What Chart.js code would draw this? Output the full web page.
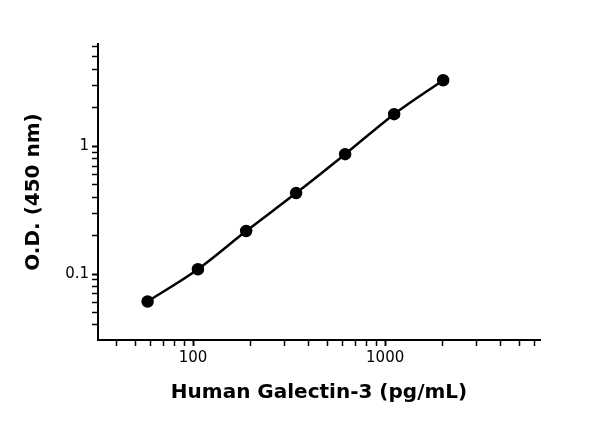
<!DOCTYPE html>
<html>
<head>
<script src="https://cdn.jsdelivr.net/npm/chart.js@4/dist/chart.umd.min.js"></script>
<style>body{margin:0;background:#fff}#wrap{width:600px;height:427px}</style>
</head>
<body>
<div id="wrap"><canvas id="chart"></canvas></div>
<script>
// Standard curve data
const concentrations = [58, 106, 189, 344, 619, 1114, 2005];
const odValues = [0.061, 0.109, 0.217, 0.43, 0.866, 1.78, 3.28];
const xLabels = [100, 1000];
const yLabels = [0.1, 1];

const FONT = '"DejaVu Sans", Lato, sans-serif';

// keep only 1..9 x 10^n ticks inside the range
const logTicks = (scale) => {
  const ticks = [];
  for (let e = -3; e <= 5; e++) {
    for (let m = 1; m <= 9; m++) {
      const v = m * Math.pow(10, e);
      if (v >= scale.min && v <= scale.max) ticks.push({ value: v, major: m === 1 });
    }
  }
  scale.ticks = ticks;
};

const axisStyle = (labels) => ({
  type: 'logarithmic',
  afterBuildTicks: logTicks,
  border: { color: '#000', width: 2 },
  grid: {
    drawOnChartArea: false,
    drawTicks: true,
    tickLength: 6,
    tickWidth: (ctx) => (ctx.tick && labels.includes(ctx.tick.value) ? 2 : 1.5),
    tickColor: '#000',
  },
  ticks: {
    color: '#000',
    autoSkip: false,
    maxRotation: 0,
    font: { family: FONT, size: 15 },
    callback: (v) => (labels.includes(v) ? String(v) : ''),
  },
});

const xAxis = axisStyle(xLabels);
xAxis.min = 32;
xAxis.max = 6400;
xAxis.title = { display: true, text: 'Human Galectin-3 (pg/mL)', color: '#000', font: { family: FONT, size: 20, weight: 'bold' }, padding: { top: 0, bottom: 22 } };
xAxis.afterFit = (s) => { s.height = 87; };

const yAxis = axisStyle(yLabels);
yAxis.min = 0.0305;
yAxis.max = 6.3;
yAxis.title = { display: true, text: 'O.D. (450 nm)', color: '#000', font: { family: FONT, size: 20, weight: 'bold' }, padding: { top: 22, bottom: 0 } };
yAxis.afterFit = (s) => { s.width = 98; };

new Chart(document.querySelector('#chart'), {
  type: 'line',
  data: {
    datasets: [{
      data: concentrations.map((c, i) => ({ x: c, y: odValues[i] })),
      borderColor: '#000',
      backgroundColor: '#000',
      borderWidth: 2.5,
      pointRadius: 5,
      pointHoverRadius: 5,
      cubicInterpolationMode: 'monotone',
    }],
  },
  options: {
    responsive: true,
    maintainAspectRatio: false,
    animation: false,
    layout: { padding: { top: 44, right: 60, left: 0, bottom: 0 } },
    plugins: { legend: { display: false }, tooltip: { enabled: false } },
    scales: { x: xAxis, y: yAxis },
  },
});
</script>
</body>
</html>
